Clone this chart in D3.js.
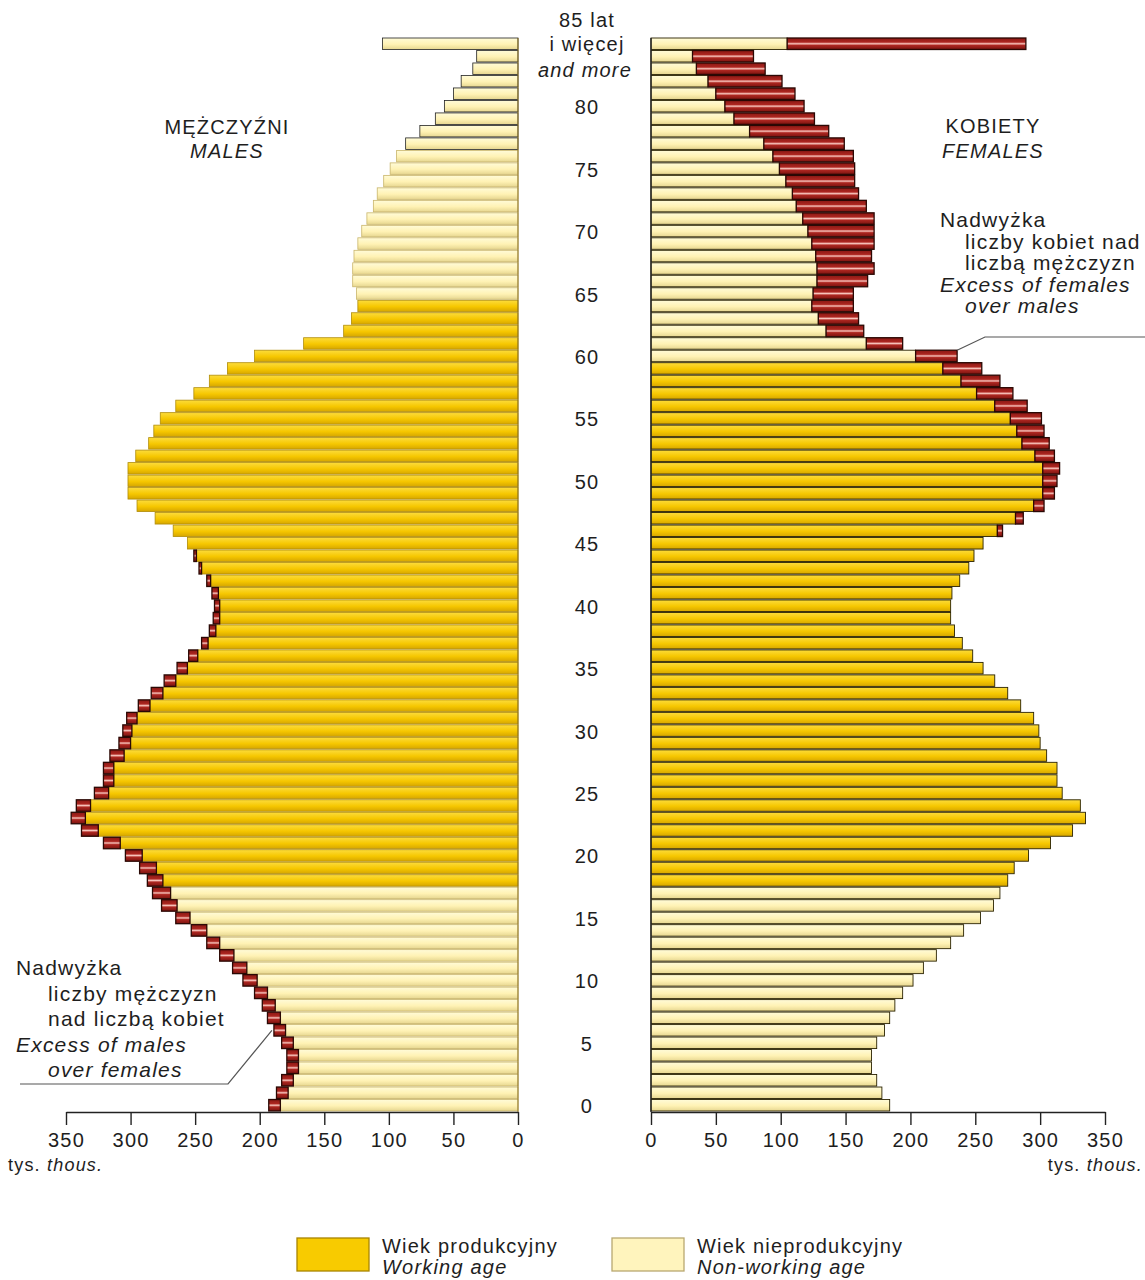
<!DOCTYPE html>
<html lang="pl">
<head>
<meta charset="UTF-8">
<title>Piramida wieku</title>
<style>
  body { margin: 0; background: #fff; }
  svg { display: block; }
  text { font-family: "Liberation Sans", Arial, sans-serif; fill: #1e1e1e; letter-spacing: 1.2px; }
  .it { font-style: italic; }
  .axis text { font-size: 20px; font-family: "Liberation Sans", Arial, sans-serif; fill: #1e1e1e; }
  .axis path, .axis line { stroke: #222; stroke-width: 1.4; }
</style>
</head>
<body>
<svg width="1145" height="1280"></svg>
<script src="https://d3js.org/d3.v7.min.js"></script>
<script>
// ages 0..85 (85 = 85 lat i więcej), values in thousands
const ages = d3.range(0, 86);
const maleValues = [
  193, 187, 183, 179, 179, 183, 189, 194, 198, 204,
  213, 221, 231, 241, 253, 265, 276, 283, 287, 293,
  304, 321, 338, 346, 342, 328, 321, 321, 316, 309,
  306, 303, 294, 284, 274, 264, 255, 245, 239, 236,
  235, 237, 241, 247, 251, 256, 267, 281, 295, 302,
  302, 302, 296, 286, 282, 277, 265, 251, 239, 225,
  204, 166, 135, 129, 124, 125, 128, 128, 127, 124,
  121, 117, 112, 109, 104, 99, 94, 87, 76, 64,
  57, 50, 44, 35, 32, 105
];
const femaleValues = [
  184, 178, 174, 170, 170, 174, 180, 184, 188, 194,
  202, 210, 220, 231, 241, 254, 264, 269, 275, 280,
  291, 308, 325, 335, 331, 317, 313, 313, 305, 300,
  299, 295, 285, 275, 265, 256, 248, 240, 234, 231,
  231, 232, 238, 245, 249, 256, 271, 287, 303, 311,
  313, 315, 311, 307, 303, 301, 290, 279, 269, 255,
  236, 194, 164, 160, 156, 156, 167, 172, 170, 172,
  172, 172, 166, 160, 157, 157, 156, 149, 137, 126,
  118, 111, 101, 88, 79, 289
];
const maleWorkingAge = [18, 64];
const femaleWorkingAge = [18, 59];
const tickValues = [0, 50, 100, 150, 200, 250, 300, 350];
const ageLabels = [0, 5, 10, 15, 20, 25, 30, 35, 40, 45, 50, 55, 60, 65, 70, 75, 80];

const svg = d3.select("svg");

// gradients
const defs = svg.append("defs");
function grad(id, stops) {
  const g = defs.append("linearGradient").attr("id", id)
    .attr("x1", 0).attr("y1", 0).attr("x2", 0).attr("y2", 1);
  stops.forEach(s => g.append("stop").attr("offset", s[0]).attr("stop-color", s[1]));
}
grad("gWork", [[0, "#fcdc3c"], [0.55, "#f6c700"], [1, "#d6a600"]]);
grad("gNon", [[0, "#fffbd8"], [0.55, "#fff2b4"], [1, "#e6d690"]]);
grad("gRed", [[0, "#8a1814"], [0.36, "#ad2620"], [0.5, "#f8c4bc"], [0.64, "#ad2620"], [1, "#7a130f"]]);

const y = d3.scaleBand().domain(ages).range([1111, 38]).paddingInner(0.08);
const xL = d3.scaleLinear().domain([0, 350]).range([518, 66]);
const xR = d3.scaleLinear().domain([0, 350]).range([651, 1105]);

const rows = ages.map((a, i) => ({
  age: a,
  male: maleValues[i],
  female: femaleValues[i],
  common: Math.min(maleValues[i], femaleValues[i])
}));

const inRange = (a, r) => a >= r[0] && a <= r[1];

// male side
const left = svg.append("g");
left.selectAll("rect.base").data(rows).join("rect")
  .attr("class", "base")
  .attr("x", d => xL(d.common))
  .attr("y", d => y(d.age))
  .attr("width", d => xL(0) - xL(d.common))
  .attr("height", y.bandwidth())
  .attr("fill", d => inRange(d.age, maleWorkingAge) ? "url(#gWork)" : "url(#gNon)")
  .attr("stroke", d => d.age >= 77 ? "#222" : (inRange(d.age, maleWorkingAge) ? "#b08c08" : "#c9b56a"))
  .attr("stroke-width", 0.8);

left.selectAll("rect.excess").data(rows.filter(d => d.male > d.female)).join("rect")
  .attr("class", "excess")
  .attr("x", d => xL(d.male))
  .attr("y", d => y(d.age))
  .attr("width", d => xL(d.female) - xL(d.male))
  .attr("height", y.bandwidth())
  .attr("fill", "url(#gRed)")
  .attr("stroke", "#2a0804")
  .attr("stroke-width", 1.3);

// female side
const right = svg.append("g");
right.selectAll("rect.base").data(rows).join("rect")
  .attr("class", "base")
  .attr("x", xR(0))
  .attr("y", d => y(d.age))
  .attr("width", d => xR(d.common) - xR(0))
  .attr("height", y.bandwidth())
  .attr("fill", d => inRange(d.age, femaleWorkingAge) ? "url(#gWork)" : "url(#gNon)")
  .attr("stroke", "#2b2300")
  .attr("stroke-width", 0.9);

right.selectAll("rect.excess").data(rows.filter(d => d.female > d.male)).join("rect")
  .attr("class", "excess")
  .attr("x", d => xR(d.male))
  .attr("y", d => y(d.age))
  .attr("width", d => xR(d.female) - xR(d.male))
  .attr("height", y.bandwidth())
  .attr("fill", "url(#gRed)")
  .attr("stroke", "#2a0804")
  .attr("stroke-width", 1.3);

// zero lines
svg.append("line").attr("x1", xL(0)).attr("x2", xL(0)).attr("y1", y(85)).attr("y2", 1112)
  .attr("stroke", "#8a7020").attr("stroke-width", 1);
svg.append("line").attr("x1", xR(0)).attr("x2", xR(0)).attr("y1", y(85)).attr("y2", 1112)
  .attr("stroke", "#222").attr("stroke-width", 1.4);

// axes
svg.append("g").attr("class", "axis").attr("transform", "translate(0,1112)")
  .call(d3.axisBottom(xL).tickValues(tickValues).tickSize(13).tickPadding(8).tickSizeOuter(0));
svg.append("g").attr("class", "axis").attr("transform", "translate(0,1112)")
  .call(d3.axisBottom(xR).tickValues(tickValues).tickSize(13).tickPadding(8).tickSizeOuter(0));

function unitLabel(x, anchor) {
  const t = svg.append("text").attr("x", x).attr("y", 1171).attr("font-size", 18)
    .attr("text-anchor", anchor);
  t.append("tspan").text("tys. ");
  t.append("tspan").attr("class", "it").text("thous.");
}
unitLabel(8, "start");
unitLabel(1143, "end");

// age labels
const cx = 587;
svg.append("g").selectAll("text").data(ageLabels).join("text")
  .attr("x", cx)
  .attr("y", d => y(d) + y.bandwidth() / 2 + 8)
  .attr("text-anchor", "middle")
  .attr("font-size", 20)
  .text(d => d);
svg.append("text").attr("x", cx).attr("y", 27).attr("text-anchor", "middle").attr("font-size", 20).text("85 lat");
svg.append("text").attr("x", cx).attr("y", 51).attr("text-anchor", "middle").attr("font-size", 20).text("i więcej");
svg.append("text").attr("x", cx - 2).attr("y", 77).attr("text-anchor", "middle").attr("font-size", 20)
  .attr("class", "it").text("and more");

// side titles
svg.append("text").attr("x", 227).attr("y", 134).attr("text-anchor", "middle").attr("font-size", 20).text("MĘŻCZYŹNI");
svg.append("text").attr("x", 227).attr("y", 158).attr("text-anchor", "middle").attr("font-size", 20)
  .attr("class", "it").text("MALES");
svg.append("text").attr("x", 993).attr("y", 133).attr("text-anchor", "middle").attr("font-size", 20).text("KOBIETY");
svg.append("text").attr("x", 993).attr("y", 158).attr("text-anchor", "middle").attr("font-size", 20)
  .attr("class", "it").text("FEMALES");

// annotations
function note(lines, x0, y0, dy) {
  lines.forEach((l, i) => {
    svg.append("text").attr("x", x0 + l[1]).attr("y", y0 + i * dy).attr("font-size", 21)
      .attr("class", l[2] ? "it" : null).text(l[0]);
  });
}
note([["Nadwyżka", 0], ["liczby kobiet nad", 25], ["liczbą mężczyzn", 25],
      ["Excess of females", 0, true], ["over males", 25, true]], 940, 227, 21.5);
note([["Nadwyżka", 0], ["liczby mężczyzn", 32], ["nad liczbą kobiet", 32],
      ["Excess of males", 0, true], ["over females", 32, true]], 16, 975, 25.5);

const line = d3.line();
svg.append("path")
  .attr("d", line([[1145, 337], [985, 337], [xR(femaleValues[60]), y(60)]]))
  .attr("fill", "none").attr("stroke", "#555").attr("stroke-width", 1.2);
svg.append("path")
  .attr("d", line([[20, 1084], [228, 1084], [xL(maleValues[6]) - 2, y(6) + y.bandwidth() / 2]]))
  .attr("fill", "none").attr("stroke", "#555").attr("stroke-width", 1.2);

// legend
const legend = [
  { fill: "#f8cb00", stroke: "#a88400", pl: "Wiek produkcyjny", en: "Working age", x: 297 },
  { fill: "#fff4bd", stroke: "#b8a870", pl: "Wiek nieprodukcyjny", en: "Non-working age", x: 612 }
];
const lg = svg.append("g").selectAll("g").data(legend).join("g")
  .attr("transform", d => `translate(${d.x},1238)`);
lg.append("rect").attr("width", 72).attr("height", 33)
  .attr("fill", d => d.fill).attr("stroke", d => d.stroke).attr("stroke-width", 1.3);
lg.append("text").attr("x", 85).attr("y", 15).attr("font-size", 20).text(d => d.pl);
lg.append("text").attr("x", 85).attr("y", 36).attr("font-size", 20).attr("class", "it").text(d => d.en);
</script>
</body>
</html>
